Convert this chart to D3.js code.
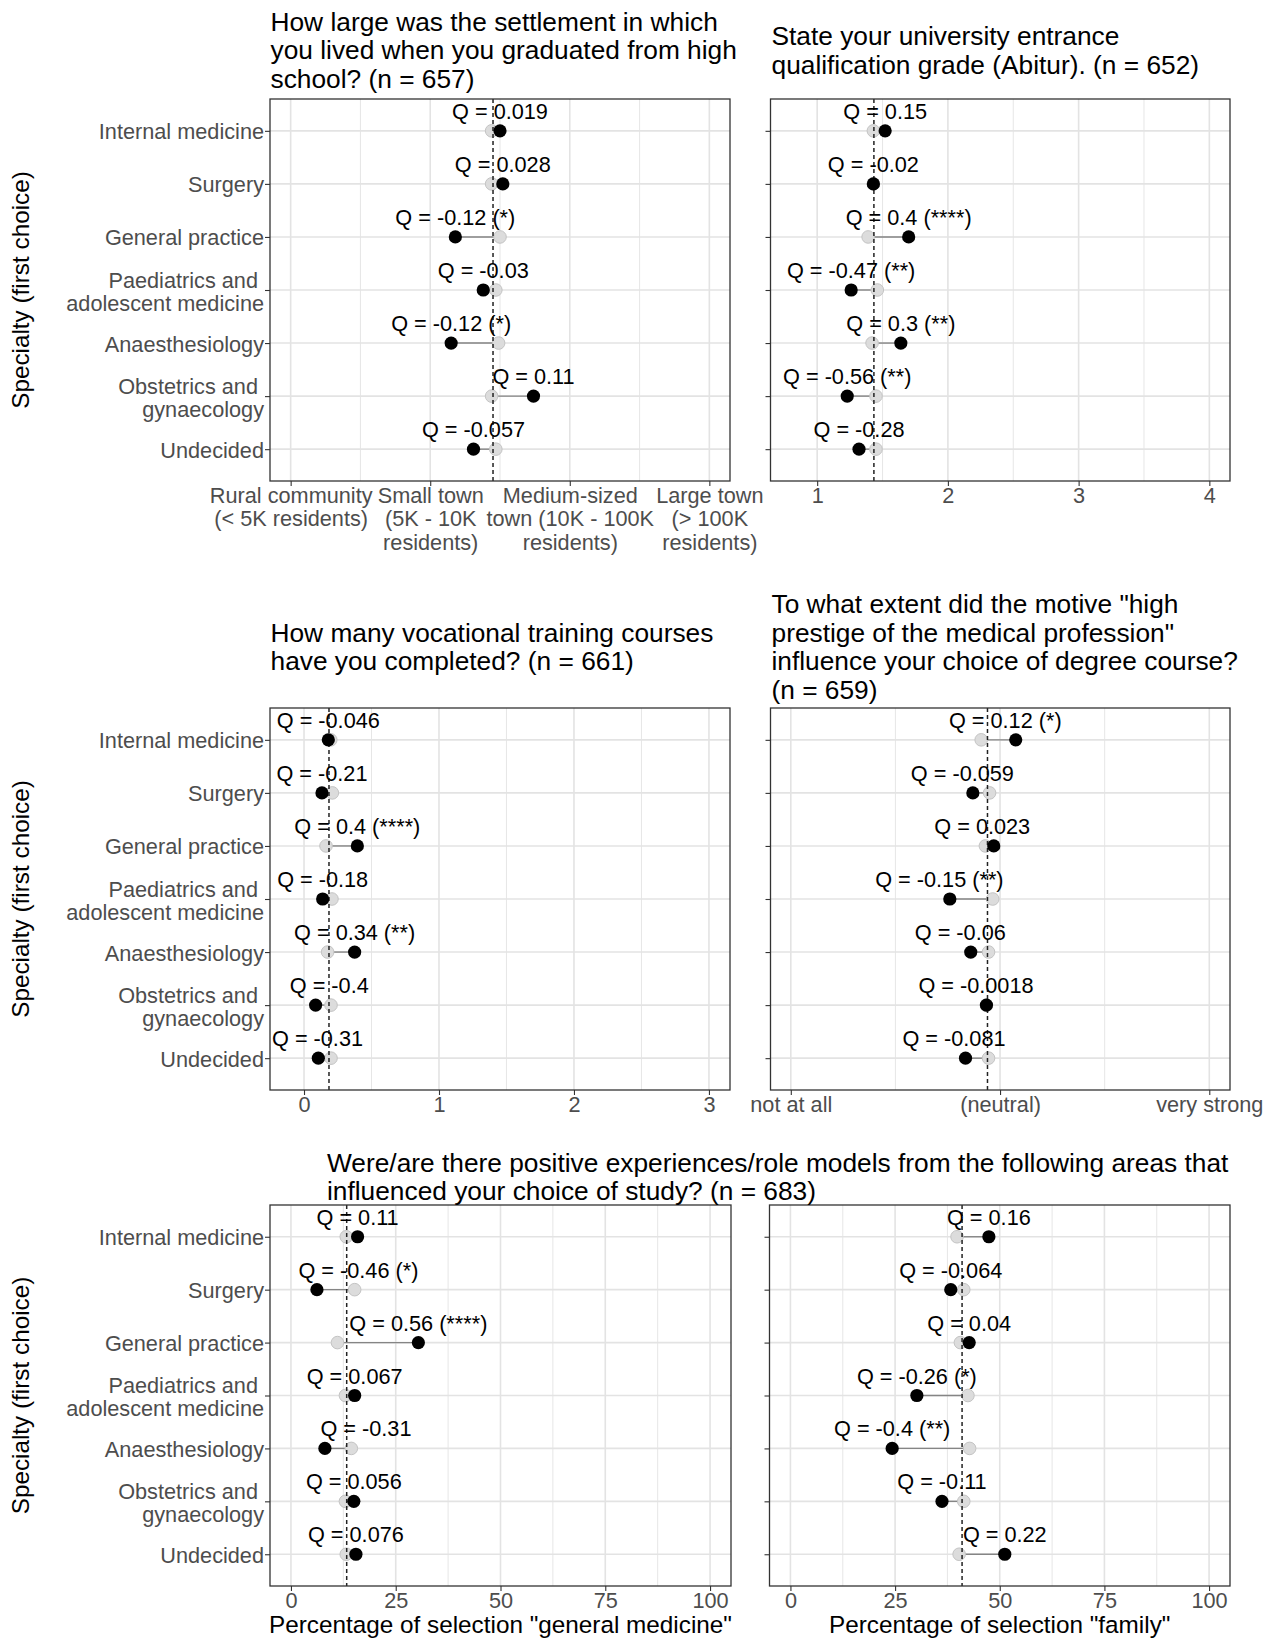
<!DOCTYPE html>
<html>
<head>
<meta charset="utf-8">
<script src="https://cdn.jsdelivr.net/npm/d3@7"></script>
<style>
  html, body { margin: 0; padding: 0; background: #ffffff; }
  svg text { font-family: 'Liberation Sans', Arial, Helvetica, sans-serif; }
</style>
</head>
<body>
<svg id="chart" width="1270" height="1641"></svg>
<script>
// ---------- categories ----------
const specialties = [
  "Internal medicine", "Surgery", "General practice",
  "Paediatrics and adolescent medicine", "Anaesthesiology",
  "Obstetrics and gynaecology", "Undecided"
];
const specialtyLines = [
  ["Internal medicine"], ["Surgery"], ["General practice"],
  ["Paediatrics and", "adolescent medicine"], ["Anaesthesiology"],
  ["Obstetrics and", "gynaecology"], ["Undecided"]
];

// ---------- settlement size (1 = rural ... 4 = large town) ----------
const settlementGroup = [2.50, 2.52, 2.18, 2.38, 2.15, 2.74, 2.31];
const settlementRest  = [2.44, 2.44, 2.50, 2.47, 2.49, 2.44, 2.47];
const settlementMean  = 2.45;
const settlementQ = ["Q = 0.019", "Q = 0.028", "Q = -0.12 (*)", "Q = -0.03",
                     "Q = -0.12 (*)", "Q = 0.11", "Q = -0.057"];
const settlementLabelAt = settlementGroup;
const settlementTicks = [1, 2, 3, 4];
const settlementTickLabels = [
  ["Rural community", "(< 5K residents)"],
  ["Small town", "(5K - 10K", "residents)"],
  ["Medium-sized", "town (10K - 100K", "residents)"],
  ["Large town", "(> 100K", "residents)"]
];

// ---------- Abitur grade ----------
const abiturGroup = [1.52, 1.43, 1.70, 1.26, 1.64, 1.23, 1.32];
const abiturRest  = [1.43, 1.43, 1.39, 1.46, 1.42, 1.45, 1.45];
const abiturMean  = 1.434;
const abiturQ = ["Q = 0.15", "Q = -0.02", "Q = 0.4 (****)", "Q = -0.47 (**)",
                 "Q = 0.3 (**)", "Q = -0.56 (**)", "Q = -0.28"];
const abiturLabelAt = abiturGroup;
const abiturTicks = [1, 2, 3, 4];

// ---------- vocational training courses ----------
const trainingGroup = [0.180, 0.133, 0.395, 0.138, 0.375, 0.086, 0.106];
const trainingRest  = [0.198, 0.210, 0.163, 0.207, 0.175, 0.200, 0.200];
const trainingMean  = 0.185;
const trainingQ = ["Q = -0.046", "Q = -0.21", "Q = 0.4 (****)", "Q = -0.18",
                   "Q = 0.34 (**)", "Q = -0.4", "Q = -0.31"];
const trainingLabelAt = [0.180, 0.133, 0.395, 0.138, 0.375, 0.187, 0.100];
const trainingTicks = [0, 1, 2, 3];

// ---------- prestige motive (1 = not at all ... 5 = very strong) ----------
const prestigeGroup = [3.15, 2.74, 2.94, 2.52, 2.72, 2.87, 2.67];
const prestigeRest  = [2.82, 2.90, 2.86, 2.93, 2.89, 2.87, 2.89];
const prestigeMean  = 2.88;
const prestigeQ = ["Q = 0.12 (*)", "Q = -0.059", "Q = 0.023", "Q = -0.15 (**)",
                   "Q = -0.06", "Q = -0.0018", "Q = -0.081"];
const prestigeLabelAt = [3.05, 2.64, 2.83, 2.42, 2.62, 2.77, 2.56];
const prestigeTicks = [1, 3, 5];
const prestigeTickLabels = [["not at all"], ["(neutral)"], ["very strong"]];

// ---------- role models: general medicine (%) ----------
const genMedGroup = [15.9, 6.2, 30.4, 15.2, 8.1, 15.0, 15.5];
const genMedRest  = [13.2, 15.2, 11.1, 13.0, 14.4, 13.0, 13.2];
const genMedMean  = 13.3;
const genMedQ = ["Q = 0.11", "Q = -0.46 (*)", "Q = 0.56 (****)", "Q = 0.067",
                 "Q = -0.31", "Q = 0.056", "Q = 0.076"];
const genMedLabelAt = [15.9, 16.1, 30.4, 15.2, 17.9, 15.0, 15.5];

// ---------- role models: family (%) ----------
const familyGroup = [47.4, 38.3, 42.7, 30.2, 24.3, 36.2, 51.2];
const familyRest  = [39.8, 41.4, 40.6, 42.4, 42.8, 41.4, 40.3];
const familyMean  = 41.0;
const familyQ = ["Q = 0.16", "Q = -0.064", "Q = 0.04", "Q = -0.26 (*)",
                 "Q = -0.4 (**)", "Q = -0.11", "Q = 0.22"];
const familyLabelAt = familyGroup;
const percentTicks = [0, 25, 50, 75, 100];

// ---------- titles ----------
const titleSettlement = ["How large was the settlement in which",
                         "you lived when you graduated from high",
                         "school? (n = 657)"];
const titleAbitur = ["State your university entrance",
                     "qualification grade (Abitur). (n = 652)"];
const titleTraining = ["How many vocational training courses",
                       "have you completed? (n = 661)"];
const titlePrestige = ["To what extent did the motive \"high",
                       "prestige of the medical profession\"",
                       "influence your choice of degree course?",
                       "(n = 659)"];
const titleRoleModels = ["Were/are there positive experiences/role models from the following areas that",
                         "influenced your choice of study? (n = 683)"];
const yTitle = "Specialty (first choice)";

// ---------- drawing ----------
const svg = d3.select("#chart");
svg.append("rect").attr("width", 1270).attr("height", 1641).attr("fill", "#ffffff");

const TICK_FS = 21.7, Q_FS = 21.7, TITLE_FS = 26.3, AXTITLE_FS = 24.3;
const GRID = "#e3e3e3", BORDER = "#333333", TICKTXT = "#4d4d4d";

function drawPanel(p) {
  const g = svg.append("g");
  const x = d3.scaleLinear().domain(p.domain).range([p.x0, p.x1]);
  const y = d3.scalePoint().domain(specialties).range([p.y0, p.y1]).padding(0.6);

  // grid
  g.append("g").selectAll("line").data(p.minor).join("line")
    .attr("x1", d => x(d)).attr("x2", d => x(d))
    .attr("y1", p.y0).attr("y2", p.y1)
    .attr("stroke", GRID).attr("stroke-width", 0.9);
  g.append("g").selectAll("line").data(p.ticks).join("line")
    .attr("x1", d => x(d)).attr("x2", d => x(d))
    .attr("y1", p.y0).attr("y2", p.y1)
    .attr("stroke", GRID).attr("stroke-width", 1.6);
  g.append("g").selectAll("line").data(specialties).join("line")
    .attr("x1", p.x0).attr("x2", p.x1)
    .attr("y1", d => y(d)).attr("y2", d => y(d))
    .attr("stroke", GRID).attr("stroke-width", 1.6);

  const rows = specialties.map((s, i) => ({
    s, group: p.group[i], rest: p.rest[i], q: p.q[i], at: p.labelAt[i]
  }));

  // connecting segments
  g.append("g").selectAll("line").data(rows).join("line")
    .attr("x1", d => x(d.rest)).attr("x2", d => x(d.group))
    .attr("y1", d => y(d.s)).attr("y2", d => y(d.s))
    .attr("stroke", "#858585").attr("stroke-width", 1.4);

  // rest-of-sample means
  g.append("g").selectAll("circle").data(rows).join("circle")
    .attr("cx", d => x(d.rest)).attr("cy", d => y(d.s)).attr("r", 6.3)
    .attr("fill", "#dcdcdc").attr("stroke", "#c4c4c4").attr("stroke-width", 1);

  // overall mean
  g.append("line")
    .attr("x1", x(p.mean)).attr("x2", x(p.mean))
    .attr("y1", p.y0).attr("y2", p.y1)
    .attr("stroke", "#222").attr("stroke-width", 1.5)
    .attr("stroke-dasharray", "4,3");

  // specialty group means
  g.append("g").selectAll("circle").data(rows).join("circle")
    .attr("cx", d => x(d.group)).attr("cy", d => y(d.s)).attr("r", 6.6)
    .attr("fill", "#000");

  // Q labels
  g.append("g").selectAll("text").data(rows).join("text")
    .attr("x", d => x(d.at)).attr("y", d => y(d.s) - 12)
    .attr("text-anchor", "middle").attr("font-size", Q_FS).attr("fill", "#000")
    .text(d => d.q);

  // panel border
  g.append("rect")
    .attr("x", p.x0).attr("y", p.y0)
    .attr("width", p.x1 - p.x0).attr("height", p.y1 - p.y0)
    .attr("fill", "none").attr("stroke", BORDER).attr("stroke-width", 1.3);

  // x axis
  const xa = g.append("g").attr("transform", `translate(0,${p.y1})`)
    .call(d3.axisBottom(x).tickValues(p.ticks).tickSize(5).tickSizeOuter(0));
  xa.select(".domain").remove();
  xa.selectAll(".tick line").attr("stroke", BORDER).attr("stroke-width", 1.1);
  xa.selectAll(".tick text").each(function (d, i) {
    const t = d3.select(this);
    const lines = p.tickLabels ? p.tickLabels[i] : [String(d)];
    t.text(null).attr("dy", null).attr("y", null)
      .attr("font-size", TICK_FS).attr("fill", TICKTXT)
      .attr("font-family", "'Liberation Sans', Arial, sans-serif");
    lines.forEach((ln, k) => {
      t.append("tspan").attr("x", 0).attr("y", 21.5 + k * 23.5).text(ln);
    });
  });

  // y axis
  const ya = g.append("g").attr("transform", `translate(${p.x0},0)`)
    .call(d3.axisLeft(y).tickSize(5).tickSizeOuter(0));
  ya.select(".domain").remove();
  ya.selectAll(".tick line").attr("stroke", BORDER).attr("stroke-width", 1.1);
  ya.selectAll(".tick text").each(function (d, i) {
    const t = d3.select(this);
    if (!p.showY) { t.remove(); return; }
    const lines = specialtyLines[i];
    t.text(null).attr("dy", null).attr("x", null)
      .attr("font-size", TICK_FS).attr("fill", TICKTXT)
      .attr("text-anchor", "end")
      .attr("font-family", "'Liberation Sans', Arial, sans-serif");
    if (lines.length === 1) {
      t.append("tspan").attr("x", -6).attr("y", 8).text(lines[0]);
    } else {
      t.append("tspan").attr("x", -6).attr("dx", "-0.278em").attr("y", -3).text(lines[0]);
      t.append("tspan").attr("x", -6).attr("y", 20).text(lines[1]);
    }
  });

  // y axis title
  if (p.showY) {
    svg.append("text")
      .attr("transform", `translate(29,${(p.y0 + p.y1) / 2}) rotate(-90)`)
      .attr("text-anchor", "middle").attr("font-size", AXTITLE_FS).attr("fill", "#000")
      .text(yTitle);
  }
  // x axis title
  if (p.xTitle) {
    svg.append("text")
      .attr("x", (p.x0 + p.x1) / 2).attr("y", p.y1 + 47)
      .attr("text-anchor", "middle").attr("font-size", AXTITLE_FS).attr("fill", "#000")
      .text(p.xTitle);
  }
}

function drawTitle(lines, x, firstBaseline) {
  const t = svg.append("text").attr("font-size", TITLE_FS).attr("fill", "#000");
  lines.forEach((ln, k) => {
    t.append("tspan").attr("x", x).attr("y", firstBaseline + k * 28.4).text(ln);
  });
}

const TOP = [99, 481], MID = [708, 1090], BOT = [1205, 1586];
const LEFT = [270, 730], RIGHT = [770.5, 1230];

drawPanel({ x0: LEFT[0], x1: LEFT[1], y0: TOP[0], y1: TOP[1],
  domain: [0.852, 4.148], ticks: settlementTicks, minor: [1.5, 2.5, 3.5],
  tickLabels: settlementTickLabels, group: settlementGroup, rest: settlementRest,
  mean: settlementMean, q: settlementQ, labelAt: settlementLabelAt, showY: true });

drawPanel({ x0: RIGHT[0], x1: RIGHT[1], y0: TOP[0], y1: TOP[1],
  domain: [0.643, 4.158], ticks: abiturTicks, minor: [1.5, 2.5, 3.5],
  group: abiturGroup, rest: abiturRest, mean: abiturMean, q: abiturQ,
  labelAt: abiturLabelAt, showY: false });

drawPanel({ x0: LEFT[0], x1: LEFT[1], y0: MID[0], y1: MID[1],
  domain: [-0.252, 3.156], ticks: trainingTicks, minor: [0.5, 1.5, 2.5],
  group: trainingGroup, rest: trainingRest, mean: trainingMean, q: trainingQ,
  labelAt: trainingLabelAt, showY: true });

drawPanel({ x0: RIGHT[0], x1: RIGHT[1], y0: MID[0], y1: MID[1],
  domain: [0.806, 5.198], ticks: prestigeTicks, minor: [2, 4],
  tickLabels: prestigeTickLabels, group: prestigeGroup, rest: prestigeRest,
  mean: prestigeMean, q: prestigeQ, labelAt: prestigeLabelAt, showY: false });

drawPanel({ x0: 270, x1: 731, y0: BOT[0], y1: BOT[1],
  domain: [-5, 105], ticks: percentTicks, minor: [12.5, 37.5, 62.5, 87.5],
  group: genMedGroup, rest: genMedRest, mean: genMedMean, q: genMedQ,
  labelAt: genMedLabelAt, showY: true,
  xTitle: "Percentage of selection \"general medicine\"" });

drawPanel({ x0: 769.5, x1: 1230, y0: BOT[0], y1: BOT[1],
  domain: [-5, 105], ticks: percentTicks, minor: [12.5, 37.5, 62.5, 87.5],
  group: familyGroup, rest: familyRest, mean: familyMean, q: familyQ,
  labelAt: familyLabelAt, showY: false,
  xTitle: "Percentage of selection \"family\"" });

drawTitle(titleSettlement, 270.5, 30.7);
drawTitle(titleAbitur, 771.5, 45.2);
drawTitle(titleTraining, 270.5, 641.8);
drawTitle(titlePrestige, 771.5, 613.3);
drawTitle(titleRoleModels, 327, 1171.5);
</script>
</body>
</html>
